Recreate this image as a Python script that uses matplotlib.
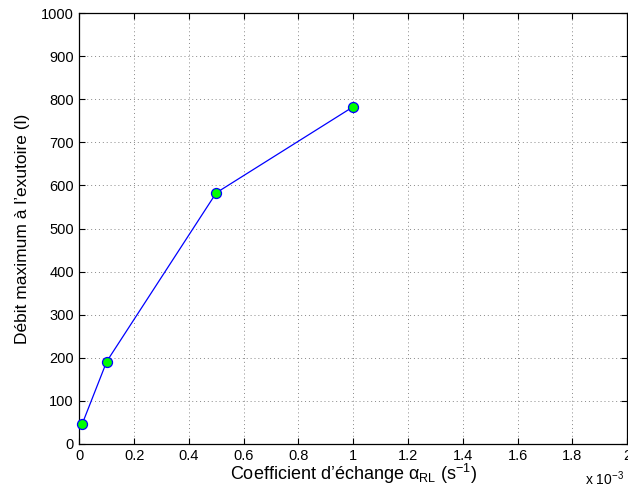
import matplotlib
matplotlib.use("Agg")
import matplotlib.pyplot as plt

plt.rcParams['font.family'] = ['Liberation Sans', 'DejaVu Sans']
plt.rcParams['mathtext.fontset'] = 'custom'
plt.rcParams['mathtext.rm'] = 'Liberation Sans'
plt.rcParams['mathtext.it'] = 'Liberation Sans:italic'
plt.rcParams['mathtext.sf'] = 'Liberation Sans'

# Data
alpha_rl = [1e-5, 1e-4, 5e-4, 1e-3]          # s^-1
debit_max = [45, 191, 583, 783]              # l
xticks = [0, 0.2, 0.4, 0.6, 0.8, 1, 1.2, 1.4, 1.6, 1.8, 2]   # x 1e-3
yticks = [0, 100, 200, 300, 400, 500, 600, 700, 800, 900, 1000]

fig = plt.figure(figsize=(6.28, 4.95), dpi=100)
ax = fig.add_axes([0.1263, 0.1036, 0.8725, 0.8695])

ax.plot(alpha_rl, debit_max, '-', color='#0000ff', lw=0.9, marker='o',
        markersize=7.2, markerfacecolor='#00ff00', markeredgecolor='#0000ff',
        markeredgewidth=0.9, clip_on=False, zorder=3)

ax.set_xlim(0, 2e-3)
ax.set_ylim(0, 1000)
ax.set_xticks([t * 1e-3 for t in xticks])
ax.set_xticklabels([f"{t:g}" for t in xticks])
ax.set_yticks(yticks)

ax.grid(True, linestyle=(0, (1, 3)), color='#888888', linewidth=0.7)
ax.tick_params(direction='in', top=True, right=True, length=4, width=0.8,
               labelsize=10.5, pad=4, colors='black')
for s in ax.spines.values():
    s.set_linewidth(0.9)
    s.set_color('black')

ax.set_xlabel("Coefficient d’échange α$_{\\mathregular{RL}}$ (s$^{-1}$)",
              fontsize=13, labelpad=-1)
ax.set_ylabel("Débit maximum à l’exutoire (l)", fontsize=12.5, labelpad=8)

fig.text(0.9315, 0.014, r"x 10$^{-3}$", fontsize=10, ha='left', va='bottom')

fig.savefig("out.png", dpi=100)
